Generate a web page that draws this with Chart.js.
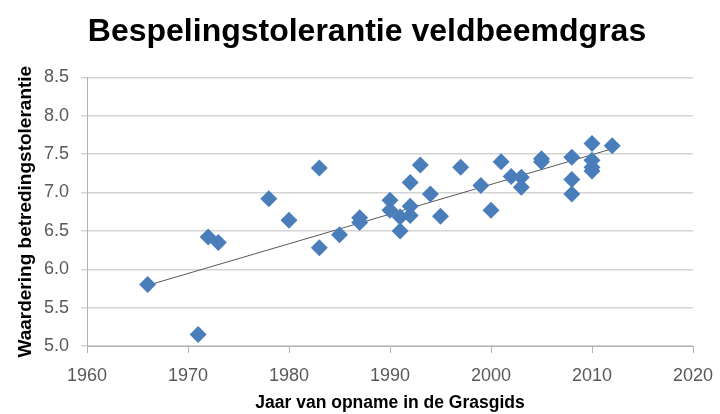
<!DOCTYPE html>
<html>
<head>
<meta charset="utf-8">
<title>Bespelingstolerantie veldbeemdgras</title>
<script src="https://cdn.jsdelivr.net/npm/chart.js@4/dist/chart.umd.min.js"></script>
<style>
  html, body { margin: 0; padding: 0; background: #fff; }
  #wrap { width: 720px; height: 414px; }
</style>
</head>
<body>
<div id="wrap"><canvas id="myChart" width="720" height="414"></canvas></div>
<script>
// jaar van opname en waardering
const years = [1966, 1971, 1972, 1973, 1978, 1980, 1983, 1983, 1985, 1987, 1987,
  1990, 1990, 1991, 1991, 1992, 1992, 1992, 1993, 1994, 1995, 1997, 1999, 2000,
  2001, 2002, 2003, 2003, 2005, 2005, 2008, 2008, 2008, 2010, 2010, 2010, 2010, 2012];
const scores = [5.80, 5.15, 6.42, 6.35, 6.92, 6.64, 7.32, 6.28, 6.45, 6.67, 6.61,
  6.90, 6.77, 6.68, 6.50, 7.13, 6.82, 6.70, 7.36, 6.98, 6.69, 7.33, 7.09, 6.77,
  7.40, 7.21, 7.20, 7.07, 7.44, 7.40, 7.46, 7.17, 6.98, 7.64, 7.42, 7.33, 7.28, 7.61];

// trendlijn: begin- en eindpunt
const trendYears = [1966, 2012];
const trendScores = [5.79, 7.57];

const xTicks = [1960, 1970, 1980, 1990, 2000, 2010, 2020];
const yTicks = [5.0, 5.5, 6.0, 6.5, 7.0, 7.5, 8.0, 8.5];

document.addEventListener('DOMContentLoaded', () => {
  const ctx = document.getElementById('myChart').getContext('2d');
  const font = 'Liberation Sans';

  new Chart(ctx, {
    type: 'scatter',
    data: {
      datasets: [{
        label: 'Waardering',
        data: years.map((y, i) => ({ x: y, y: scores[i] })),
        pointStyle: 'rectRot',
        pointRadius: 8.5,
        pointHoverRadius: 8.5,
        backgroundColor: '#4a7ebb',
        borderColor: '#4a7ebb',
        borderWidth: 0
      }, {
        type: 'line',
        label: 'Trend',
        data: trendYears.map((y, i) => ({ x: y, y: trendScores[i] })),
        borderColor: '#595959',
        borderWidth: 1,
        pointRadius: 0,
        fill: false
      }]
    },
    options: {
      responsive: false,
      animation: false,
      // links iets meer ruimte zodat de titel iets rechts van het midden staat
      layout: { padding: { right: 0, left: 14, top: 0, bottom: 0 } },
      plugins: {
        legend: { display: false },
        tooltip: { enabled: false },
        title: {
          display: true,
          text: 'Bespelingstolerantie veldbeemdgras',
          color: '#000',
          font: { family: font, size: 32, weight: 'bold' },
          padding: { top: 13, bottom: 26 }
        }
      },
      scales: {
        x: {
          type: 'linear',
          min: xTicks[0],
          max: xTicks[xTicks.length - 1],
          afterBuildTicks: scale => { scale.ticks = xTicks.map(v => ({ value: v })); },
          afterFit: scale => { scale.height = 68; scale.paddingRight = 27; },
          ticks: {
            color: '#595959',
            font: { family: font, size: 18 },
            padding: 12,
            maxRotation: 0,
            callback: v => String(v)
          },
          grid: { drawOnChartArea: false, drawTicks: true, tickLength: 7, color: '#b3b3b3' },
          border: { color: '#b3b3b3', width: 1 },
          title: {
            display: true,
            text: 'Jaar van opname in de Grasgids',
            color: '#000',
            font: { family: font, size: 17.5, weight: 'bold' },
            padding: { top: 0, bottom: 0 }
          }
        },
        y: {
          min: yTicks[0],
          max: yTicks[yTicks.length - 1],
          afterBuildTicks: scale => { scale.ticks = yTicks.map(v => ({ value: v })); },
          afterFit: scale => { scale.width = 73; },
          ticks: {
            color: '#595959',
            font: { family: font, size: 18 },
            padding: 12,
            callback: v => v.toFixed(1)
          },
          grid: { color: '#d4d4d4', lineWidth: 1.5, tickLength: 6 },
          border: { color: '#b3b3b3', width: 1 },
          title: {
            display: true,
            text: 'Waardering betredingstolerantie',
            color: '#000',
            font: { family: font, size: 19, weight: 'bold' },
            padding: { top: 0, bottom: 0 }
          }
        }
      }
    }
  });
});
</script>
</body>
</html>
